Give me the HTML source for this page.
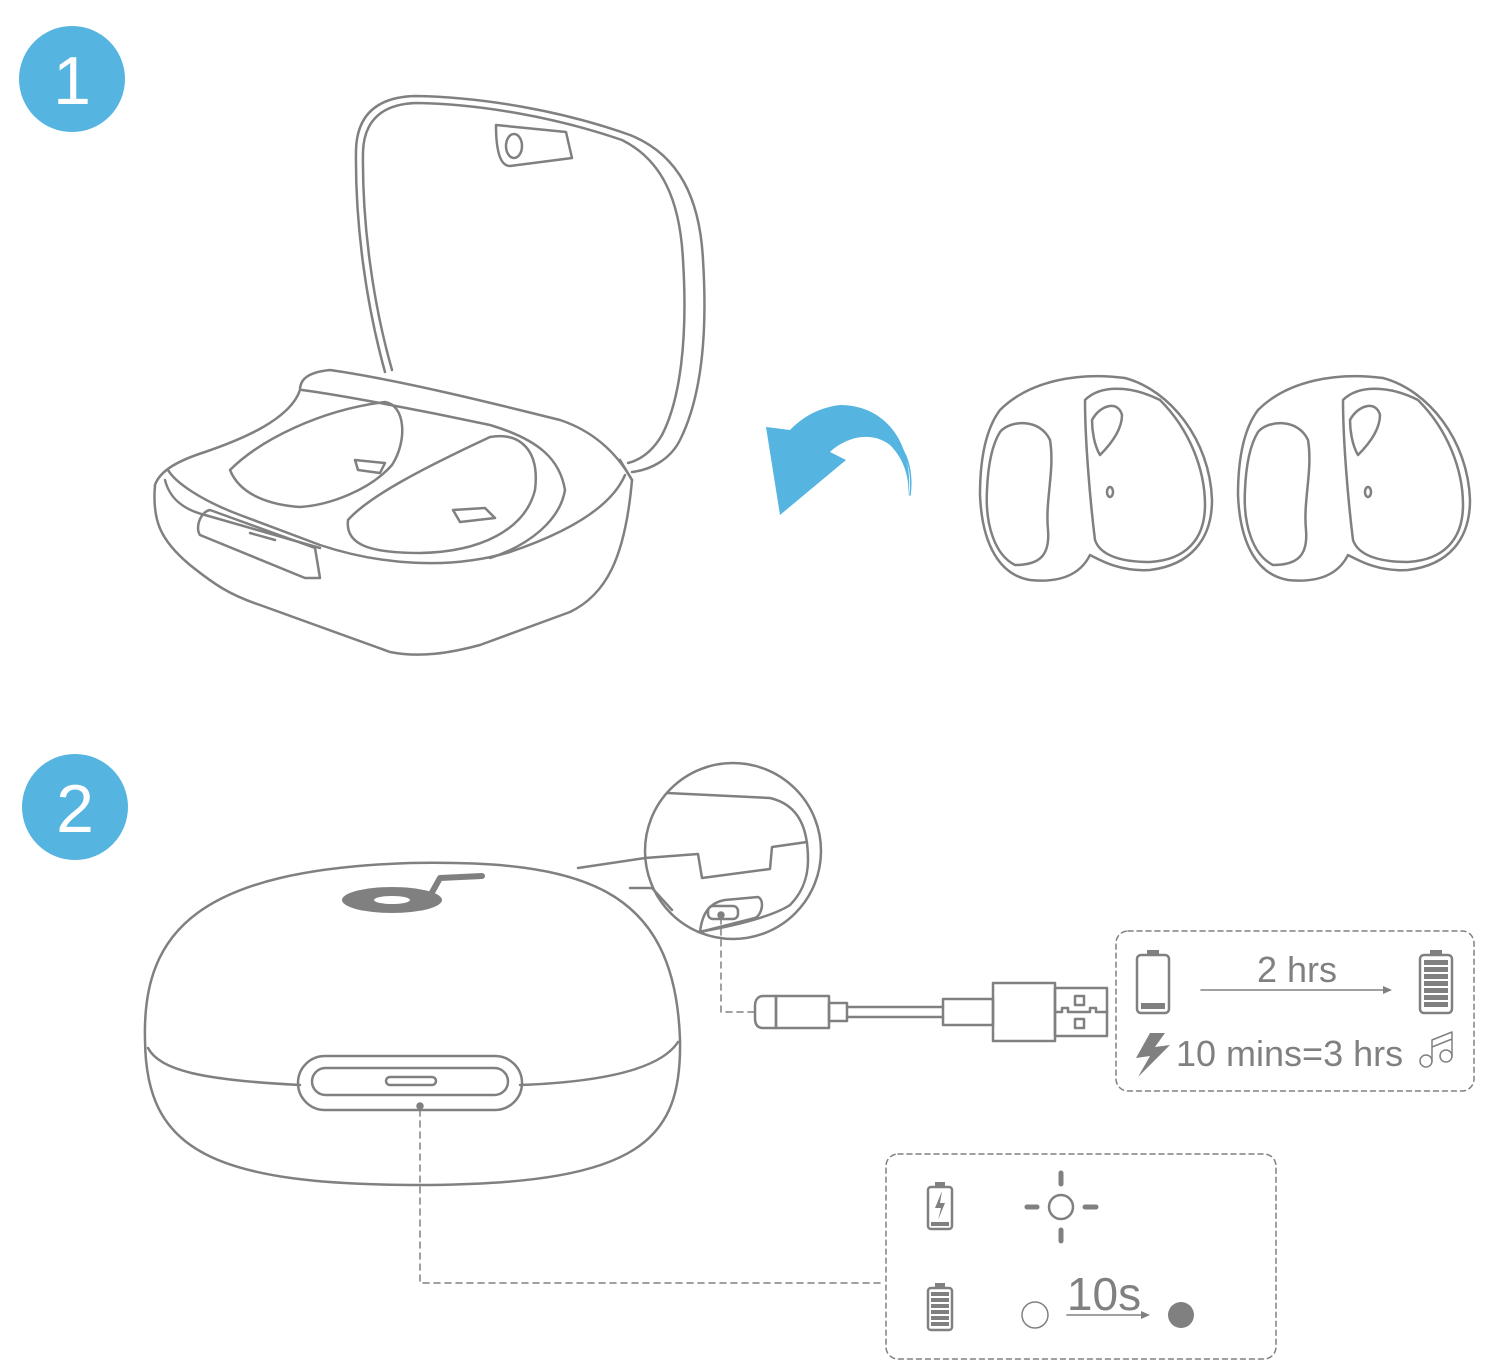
<!DOCTYPE html>
<html><head><style>
html,body{margin:0;padding:0;background:#fff;}
svg{display:block;}
text{font-family:"Liberation Sans",sans-serif;fill:#808080;}
</style></head><body>
<svg width="1502" height="1368" viewBox="0 0 1502 1368" xmlns="http://www.w3.org/2000/svg">
<g fill="none" stroke="#808080" stroke-width="2.5" stroke-linejoin="round" stroke-linecap="round">

<!-- Step circles -->
<circle cx="72" cy="79" r="53" fill="#55b5e0" stroke="none"/>
<circle cx="75" cy="807" r="53" fill="#55b5e0" stroke="none"/>

<!-- Open case lid -->
<path d="M385,372 C365,300 355,220 356,150 C357,112 380,97 415,96 C480,97 560,110 630,135 C680,155 700,200 703,260 C708,340 700,400 680,440 C670,460 650,470 632,472"/>
<path d="M392,370 C372,300 362,220 363,152 C364,118 385,104 416,103 C480,104 555,117 622,140 C662,160 680,200 683,260 C688,340 680,400 662,435 C652,452 640,460 628,463"/>
<path d="M496,125 L566,132 L572,158 L510,166 C500,166 496,150 496,125 Z"/>
<ellipse cx="514" cy="146" rx="8" ry="12"/>
<!-- base -->
<path d="M155,485 C152,520 160,540 190,565 C215,585 230,595 260,605 L390,652 C420,658 450,653 480,645 L570,612 C605,595 625,560 632,480 L620,460"/>
<path d="M155,485 C160,470 180,460 205,452 C240,440 290,420 300,390 C300,378 310,372 330,370 C400,380 500,405 560,420 C590,430 615,450 632,480"/>
<path d="M168,470 C175,482 200,500 240,515 L320,545 C380,565 450,570 510,552 C560,535 610,510 625,475"/>
<path d="M165,480 C170,500 185,510 205,515 L320,548"/>
<path d="M210,510 L315,548 L320,578 L305,578 L200,535 C195,528 200,512 210,510 Z"/>
<path d="M250,533 L275,540"/>
<path d="M230,470 C260,440 320,410 385,402 C405,405 408,440 392,465 C370,490 330,505 300,507 C270,505 240,495 230,470 Z"/>
<path d="M348,520 C370,495 430,465 490,437 C520,432 540,450 535,490 C525,530 480,552 420,553 C370,553 345,545 348,520 Z"/>
<path d="M355,460 L385,463 L380,473 L358,470 Z"/>
<path d="M453,510 L485,508 L495,518 L460,522 Z"/>
<path d="M302,390 C340,395 420,410 490,425 C540,440 560,460 565,490 C560,520 530,545 490,558"/>

<!-- Blue arrow -->
<path d="M908,498 C915,450 890,405 840,405 C815,408 800,420 790,430 L766,427 L780,515 L846,460 L830,452 C845,438 870,430 890,445 C905,460 910,480 908,498 Z" fill="#55b5e0" stroke="none"/>
<path d="M910,495 C915,455 895,425 860,432" stroke="#55b5e0" stroke-width="1.5"/>

<!-- Earbuds -->
<g id="bud">
<path d="M1000,410 C1030,380 1080,372 1125,378 C1170,390 1210,440 1212,500 C1212,540 1190,565 1150,570 C1120,572 1100,560 1090,555 C1080,575 1060,583 1030,580 C1000,575 982,545 980,495 C980,460 985,430 1000,410 Z"/>
<path d="M1085,400 C1100,385 1130,385 1160,400 C1190,430 1205,470 1205,505 C1205,540 1185,560 1150,562 C1120,562 1100,555 1095,540 C1090,500 1085,440 1085,400 Z"/>
<path d="M1092,420 C1100,405 1118,400 1122,415 C1122,430 1110,445 1100,455 C1094,445 1092,430 1092,420 Z"/>
<path d="M1000,432 C1010,420 1040,418 1050,440 C1055,470 1045,500 1048,530 C1050,555 1040,565 1015,565 C995,555 985,525 987,490 C988,465 992,445 1000,432 Z"/>
<ellipse cx="1110" cy="492" rx="3" ry="5"/>
</g>
<use href="#bud" x="258" y="0"/>

<!-- Closed case -->
<path d="M145,1040 C142,930 200,870 410,863 C580,860 675,885 680,1040 C682,1140 640,1183 430,1185 C210,1186 146,1150 145,1040 Z"/>
<path d="M148,1048 C160,1070 200,1080 300,1085 M520,1085 C600,1082 660,1070 678,1042"/>
<rect x="298" y="1056" width="224" height="54" rx="27"/>
<rect x="312" y="1068" width="196" height="27" rx="13.5"/>
<rect x="386" y="1077" width="50" height="8" rx="4"/>
<circle cx="420" cy="1106" r="2.5" fill="#808080"/>
<!-- logo -->
<ellipse cx="392" cy="900" rx="50" ry="13" fill="#808080" stroke="none"/>
<ellipse cx="392" cy="900" rx="18" ry="4" fill="#fff" stroke="none"/>
<path d="M425,905 L440,878 L482,876" stroke-width="6"/>

<!-- Magnifier -->
<circle cx="733" cy="851" r="88"/>
<path d="M578,868 L645,858 M645,858 L698,854 L702,878 L770,869 L772,847 L807,842"/>
<path d="M667,793 L770,798 C800,805 808,830 808,860 C808,880 800,895 790,905 C775,915 740,925 698,932"/>
<path d="M630,888 L652,888 L672,910"/>
<path d="M700,932 C702,915 708,903 725,900 L758,897 C765,900 762,915 755,918 Z"/>
<rect x="708" y="906" width="30" height="13" rx="5"/>
<circle cx="721" cy="915" r="2.5" fill="#808080"/>

<!-- dashed leaders -->
<path d="M721,918 L721,1012 L755,1012" stroke-dasharray="6,5" stroke-width="1.5"/>
<path d="M420,1110 L420,1283 L885,1283" stroke-dasharray="6,5" stroke-width="1.5"/>

<!-- cable -->
<path d="M763,996 L776,996 L776,1028 L763,1028 C757,1028 755,1024 755,1018 L755,1006 C755,1000 758,996 763,996 Z"/>
<rect x="776" y="996" width="53" height="32"/>
<rect x="829" y="1003" width="18" height="18"/>
<path d="M847,1007 L943,1007 M847,1017 L943,1017"/>
<rect x="943" y="999" width="50" height="26"/>
<rect x="993" y="983" width="62" height="58"/>
<rect x="1055" y="988" width="52" height="48"/>
<path d="M1055,1012 L1062,1012 L1062,1008 L1068,1008 L1068,1012 L1090,1012 L1090,1008 L1096,1008 L1096,1012 L1107,1012"/>
<rect x="1075" y="996" width="9" height="9"/>
<rect x="1075" y="1019" width="9" height="9"/>

<!-- Info boxes -->
<rect x="1116" y="931" width="358" height="160" rx="12" stroke-dasharray="5,4" stroke-width="1.5"/>
<rect x="886" y="1154" width="390" height="205" rx="12" stroke-dasharray="5,4" stroke-width="1.5"/>

<!-- Battery empty -->
<rect x="1137" y="955" width="32" height="58" rx="4"/>
<rect x="1147" y="950" width="12" height="5" fill="#808080" stroke="none"/>
<rect x="1141" y="1003" width="24" height="6" fill="#808080" stroke="none"/>
<!-- arrow -->
<path d="M1201,990 L1390,990" stroke-width="1.5"/>
<path d="M1392,990 L1383,986 L1383,994 Z" fill="#808080" stroke="none"/>
<!-- Battery full -->
<rect x="1420" y="955" width="32" height="58" rx="4"/>
<rect x="1430" y="950" width="12" height="5" fill="#808080" stroke="none"/>
<g fill="#808080" stroke="none">
<rect x="1424" y="960" width="24" height="5"/><rect x="1424" y="967" width="24" height="5"/><rect x="1424" y="974" width="24" height="5"/><rect x="1424" y="981" width="24" height="5"/><rect x="1424" y="988" width="24" height="5"/><rect x="1424" y="995" width="24" height="5"/><rect x="1424" y="1002" width="24" height="5"/>
</g>
<path d="M1150,1033 L1136,1058 L1150,1056 L1138,1077 L1170,1045 L1155,1047 L1165,1033 Z" fill="#808080" stroke="none"/>
<!-- music note -->
<circle cx="1426" cy="1061" r="6" stroke-width="1.5"/>
<circle cx="1446" cy="1056" r="6" stroke-width="1.5"/>
<path d="M1432,1061 L1432,1040 L1452,1032 L1452,1056 M1432,1047 L1452,1039" stroke-width="1.5"/>

<!-- Box 2 icons -->
<rect x="928" y="1187" width="24" height="42" rx="3"/>
<rect x="935" y="1182" width="10" height="5" fill="#808080" stroke="none"/>
<rect x="931" y="1222" width="18" height="4" fill="#808080" stroke="none"/>
<path d="M942,1191 L935,1208 L941,1208 L938,1220 L945,1203 L940,1203 Z" fill="#808080" stroke="none"/>
<circle cx="1061" cy="1207" r="12"/>
<path d="M1061,1173 L1061,1184 M1061,1230 L1061,1241 M1027,1207 L1037,1207 M1085,1207 L1096,1207" stroke-width="5"/>
<rect x="928" y="1288" width="24" height="42" rx="3"/>
<rect x="935" y="1283" width="10" height="5" fill="#808080" stroke="none"/>
<g fill="#808080" stroke="none">
<rect x="931" y="1292" width="18" height="4"/><rect x="931" y="1298" width="18" height="4"/><rect x="931" y="1304" width="18" height="4"/><rect x="931" y="1310" width="18" height="4"/><rect x="931" y="1316" width="18" height="4"/><rect x="931" y="1322" width="18" height="4"/>
</g>
<circle cx="1035" cy="1315" r="13" stroke-width="1.5"/>
<path d="M1067,1315 L1145,1315" stroke-width="1.5"/>
<path d="M1150,1315 L1141,1311 L1141,1319 Z" fill="#808080" stroke="none"/>
<circle cx="1181" cy="1315" r="13" fill="#808080" stroke="none"/>
</g>

<text x="72" y="104" font-size="68" text-anchor="middle" style="fill:#fff">1</text>
<text x="75" y="832" font-size="68" text-anchor="middle" style="fill:#fff">2</text>
<text x="1297" y="982" font-size="36" text-anchor="middle">2 hrs</text>
<text x="1176" y="1066" font-size="36">10 mins=3 hrs</text>
<text x="1104" y="1310" font-size="46" text-anchor="middle">10s</text>
</svg>
</body></html>
